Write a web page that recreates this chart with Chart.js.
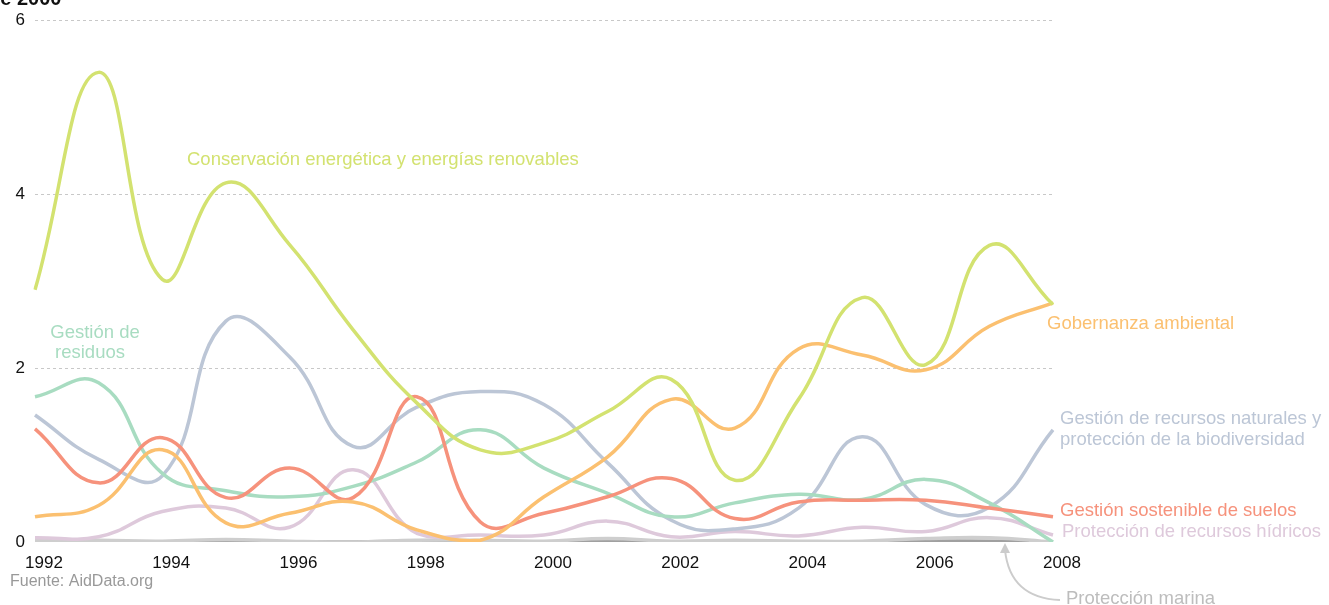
<!DOCTYPE html>
<html>
<head>
<meta charset="utf-8">
<script src="https://cdn.jsdelivr.net/npm/chart.js@4.4.0/dist/chart.umd.min.js"></script>
<style>
  html, body { margin: 0; padding: 0; background: #fff; }
  #wrap { width: 1329px; height: 605px; position: relative; }
</style>
</head>
<body>
<div id="wrap"><canvas id="chart"></canvas></div>
<script>
// years on the x axis
const years = ['1992','1993','1994','1995','1996','1997','1998','1999','2000',
               '2001','2002','2003','2004','2005','2006','2007','2008']
const yTicks = [0, 2, 4, 6]

// series values
const conservacion = [2.90, 5.40, 3.02, 4.13, 3.42, 2.44, 1.60, 1.06, 1.14, 1.50, 1.87, 0.71, 1.64, 2.81, 2.04, 3.41, 2.73]
const gobernanza   = [0.29, 0.42, 1.06, 0.22, 0.33, 0.46, 0.14, 0.02, 0.52, 0.98, 1.64, 1.31, 2.22, 2.15, 1.98, 2.48, 2.75]
const recursosNat  = [1.46, 0.95, 0.76, 2.54, 2.13, 1.10, 1.55, 1.73, 1.58, 0.91, 0.25, 0.15, 0.39, 1.21, 0.43, 0.40, 1.29]
const residuos     = [1.67, 1.83, 0.79, 0.59, 0.52, 0.64, 0.92, 1.29, 0.85, 0.56, 0.29, 0.45, 0.55, 0.49, 0.72, 0.45, 0.00]
const suelos       = [1.30, 0.68, 1.20, 0.51, 0.85, 0.51, 1.67, 0.23, 0.33, 0.52, 0.73, 0.27, 0.46, 0.48, 0.48, 0.39, 0.29]
const hidricos     = [0.05, 0.06, 0.35, 0.39, 0.17, 0.83, 0.10, 0.08, 0.08, 0.24, 0.06, 0.12, 0.07, 0.17, 0.12, 0.28, 0.08]
const marina       = [0.02, 0.02, 0.01, 0.03, 0.01, 0.00, 0.02, 0.02, 0.01, 0.04, 0.01, 0.02, 0.01, 0.01, 0.04, 0.05, 0.00]
const otros        = [0.00, 0.00, 0.00, 0.01, 0.00, 0.00, 0.01, 0.00, 0.00, 0.01, 0.00, 0.00, 0.00, 0.00, 0.01, 0.01, 0.00]

const cGreen  = 'rgb(211,226,112)'
const cOrange = 'rgb(251,192,112)'
const cBlue   = 'rgb(188,198,214)'
const cMint   = 'rgb(168,220,193)'
const cSalmon = 'rgb(246,146,124)'
const cPink   = 'rgb(222,201,219)'
const cLight  = 'rgb(206,206,206)'
const cDark   = 'rgb(160,160,160)'

const fontFam = '"Liberation Sans", Arial, sans-serif'

function line(data, color) {
    return {
        data: data,
        borderColor: color,
        backgroundColor: color,
        borderWidth: 3.5,
        pointRadius: 0,
        tension: 0.45,
        fill: false
    }
}

// labels written on the chart
const labelPlugin = {
    id: 'labels',
    afterDraw(chart) {
        const ctx = chart.ctx
        ctx.save()
        ctx.textBaseline = 'middle'
        ctx.font = '18.5px ' + fontFam

        ctx.fillStyle = cGreen
        ctx.textAlign = 'left'
        ctx.fillText('Conservación energética y energías renovables', 187, 160)

        ctx.fillStyle = cMint
        ctx.textAlign = 'center'
        ctx.fillText('Gestión de', 95, 333)
        ctx.fillText('residuos', 90, 353)

        ctx.textAlign = 'left'
        ctx.fillStyle = cOrange
        ctx.fillText('Gobernanza ambiental', 1047, 324)
        ctx.fillStyle = cBlue
        ctx.fillText('Gestión de recursos naturales y', 1060, 419)
        ctx.fillText('protección de la biodiversidad', 1060, 440)
        ctx.fillStyle = cSalmon
        ctx.fillText('Gestión sostenible de suelos', 1060, 511)
        ctx.fillStyle = cPink
        ctx.fillText('Protección de recursos hídricos', 1062, 532)
        ctx.fillStyle = '#bdbdbd'
        ctx.fillText('Protección marina', 1066, 599)

        // arrow to the marine line
        ctx.strokeStyle = '#cccccc'
        ctx.lineWidth = 2
        ctx.beginPath()
        ctx.moveTo(1005, 550)
        ctx.quadraticCurveTo(1010, 598, 1060, 600)
        ctx.stroke()
        ctx.fillStyle = '#cccccc'
        ctx.beginPath()
        ctx.moveTo(1005, 543)
        ctx.lineTo(1000, 553)
        ctx.lineTo(1010, 553)
        ctx.closePath()
        ctx.fill()

        // source
        ctx.font = '16px ' + fontFam
        ctx.fillStyle = '#999999'
        ctx.fillText('Fuente: AidData.org', 10, 582)

        // cut-off title line at the top
        ctx.font = 'bold 20px ' + fontFam
        ctx.fillStyle = '#111'
        ctx.textBaseline = 'alphabetic'
        ctx.fillText('de 2000', -12, 5)
        ctx.restore()
    }
}

const ctx = document.getElementById('chart')
Chart.defaults.font.family = fontFam
const chart = new Chart(ctx, {
    type: 'line',
    data: {
        labels: years,
        datasets: [
            line(conservacion, cGreen),
            line(gobernanza, cOrange),
            line(suelos, cSalmon),
            line(residuos, cMint),
            line(recursosNat, cBlue),
            line(hidricos, cPink),
            line(marina, cLight),
            line(otros, cDark)
        ]
    },
    options: {
        responsive: true,
        maintainAspectRatio: false,
        animation: false,
        layout: { padding: { top: 20, right: 276, bottom: 0, left: 0 } },
        scales: {
            x: {
                offset: false,
                grid: { display: false },
                border: { display: false },
                afterFit: function (scale) { scale.height = 63 },
                ticks: {
                    autoSkip: false,
                    maxRotation: 0,
                    padding: 3,
                    labelOffset: 9,
                    color: '#111',
                    font: { size: 17 },
                    callback: function (value, index) {
                        return index % 2 === 0 ? years[index] : ''
                    }
                }
            },
            y: {
                min: 0,
                max: 6,
                afterFit: function (scale) { scale.width = 35 },
                afterBuildTicks: function (scale) {
                    scale.ticks = yTicks.map(v => ({ value: v }))
                },
                border: { display: false, dash: [3, 3] },
                grid: {
                    drawTicks: false,
                    lineWidth: 1,
                    color: function (c) {
                        return c.tick && c.tick.value === 0 ? 'rgba(0,0,0,0)' : '#c8c8c8'
                    }
                },
                ticks: {
                    padding: 10,
                    color: '#111',
                    font: { size: 17 }
                }
            }
        },
        plugins: {
            legend: { display: false },
            tooltip: { enabled: false }
        }
    },
    plugins: [labelPlugin]
})
</script>
</body>
</html>
